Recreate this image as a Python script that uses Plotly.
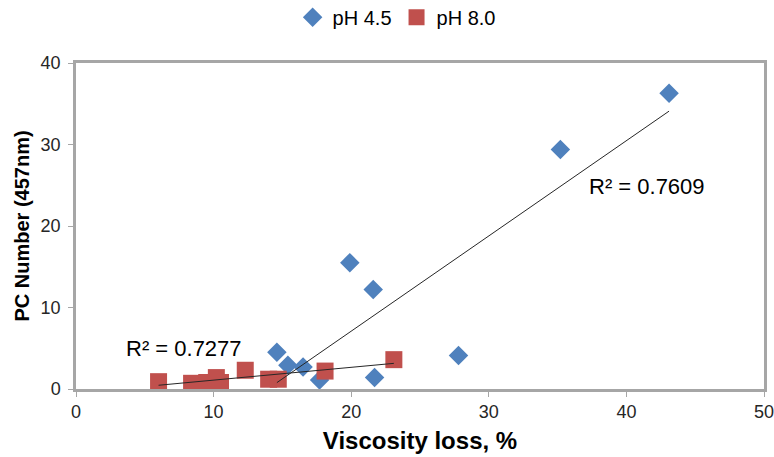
import numpy as np
import plotly.graph_objects as go

# Viscosity loss (%) and PC number at 457 nm for each pH
ph45_x = [14.6, 15.4, 16.5, 17.7, 19.9, 21.6, 21.7, 27.8, 35.2, 43.1]
ph45_y = [4.5, 2.9, 2.7, 1.1, 15.5, 12.2, 1.4, 4.1, 29.4, 36.3]

ph80_x = [6.0, 8.4, 9.5, 10.2, 10.5, 12.3, 14.0, 14.7, 18.1, 23.1]
ph80_y = [0.9, 0.7, 0.8, 1.4, 0.8, 2.3, 1.2, 1.2, 2.2, 3.6]

r2_labels = ["R² = 0.7609", "R² = 0.7277"]

x_ticks = [0, 10, 20, 30, 40, 50]
y_ticks = [0, 10, 20, 30, 40]

BLUE = "#4F81BD"
RED = "#C0504D"
FONT = "Liberation Sans, Arial, sans-serif"


def trend(xs, ys):
    slope, icpt = np.polyfit(xs, ys, 1)
    xr = np.array([min(xs), max(xs)])
    return xr, slope * xr + icpt


fig = go.Figure()

fig.add_trace(go.Scatter(
    x=ph45_x, y=ph45_y, mode="markers", name="pH 4.5",
    marker=dict(symbol="diamond", size=15, color=BLUE, line=dict(width=0)),
))
fig.add_trace(go.Scatter(
    x=ph80_x, y=ph80_y, mode="markers", name="pH 8.0",
    marker=dict(symbol="square", size=17, color=RED, line=dict(width=0)),
))

for xs, ys in [(ph45_x, ph45_y), (ph80_x, ph80_y)]:
    tx, ty = trend(xs, ys)
    fig.add_trace(go.Scatter(
        x=tx, y=ty, mode="lines", showlegend=False, hoverinfo="skip",
        line=dict(color="#262626", width=1),
    ))

fig.add_annotation(x=37.1, y=24.8, text=r2_labels[0], showarrow=False,
                   xanchor="left", yanchor="middle",
                   font=dict(family=FONT, size=22, color="#000000"))
fig.add_annotation(x=3.5, y=5.0, text=r2_labels[1], showarrow=False,
                   xanchor="left", yanchor="middle",
                   font=dict(family=FONT, size=22, color="#000000"))

axis_common = dict(
    showgrid=False, zeroline=False, showline=True, mirror=True,
    linecolor="#A6A6A6", linewidth=2.5, automargin=False,
    ticks="outside", ticklen=5, tickcolor="#A6A6A6", tickwidth=1,
    ticklabeloverflow="allow",
    tickfont=dict(family=FONT, size=18, color="#262626"),
)

fig.update_layout(
    width=774, height=457,
    margin=dict(l=76, r=10, t=63, b=68),
    paper_bgcolor="white", plot_bgcolor="white",
    font=dict(family=FONT),
    showlegend=True,
    legend=dict(orientation="h", x=0.466, xanchor="center", y=0.962,
                yanchor="middle", yref="container",
                font=dict(family=FONT, size=20, color="#000000"),
                itemsizing="trace", itemwidth=30, tracegroupgap=0),
    xaxis=dict(
        range=[0, 50], tickvals=x_ticks,
        title=dict(text="<b>Viscosity loss, %</b>", standoff=11,
                   font=dict(family=FONT, size=24, color="#000000")),
        **axis_common,
    ),
    yaxis=dict(
        range=[0, 40], tickvals=y_ticks, ticklabelstandoff=4,
        title=dict(text="<b>PC Number (457nm)</b>", standoff=6,
                   font=dict(family=FONT, size=20, color="#000000")),
        **axis_common,
    ),
)

fig.write_html("out.html")
